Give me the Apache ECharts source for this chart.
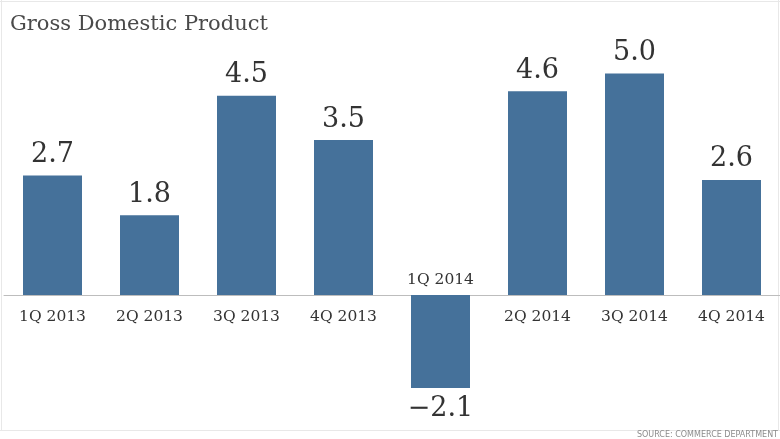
<!DOCTYPE html>
<html>
<head>
<meta charset="utf-8">
<script src="https://cdn.jsdelivr.net/npm/echarts@6/dist/echarts.min.js"></script>
<style>
html,body{margin:0;padding:0;background:#fff;}
#chart{width:780px;height:439px;}
</style>
</head>
<body>
<div id="chart"></div>
<script>
const titleText = 'Gross Domestic Product';
const sourceText = 'SOURCE: COMMERCE DEPARTMENT';
const categories = ['1Q 2013','2Q 2013','3Q 2013','4Q 2013','1Q 2014','2Q 2014','3Q 2014','4Q 2014'];
const gdpValues = [2.7, 1.8, 4.5, 3.5, -2.1, 4.6, 5.0, 2.6];

const serif = '"DejaVu Serif", serif';
const chart = echarts.init(document.getElementById('chart'), null, {renderer:'canvas'});

const catLabelSeries = categories.map(function(c, i){
  return {
    value: 0,
    label: {
      position: gdpValues[i] < 0 ? 'top' : 'bottom',
      distance: gdpValues[i] < 0 ? 7 : 14
    }
  };
});

chart.setOption({
  animation: false,
  backgroundColor: '#fff',
  title: [{
    text: titleText,
    left: 5, top: 9,
    textStyle: {fontFamily: serif, fontSize: 21, fontWeight: 'normal', color: '#4a4a4a'}
  },{
    text: sourceText,
    right: 2, top: 431, padding: 0,
    textStyle: {fontFamily: '"DejaVu Sans", sans-serif', fontSize: 8, fontWeight: 'normal', color: '#8c8c8c'}
  }],
  graphic: [
    {type:'line', shape:{x1:0,y1:1.5,x2:780,y2:1.5}, style:{stroke:'#e8e8e8',lineWidth:1}, silent:true},
    {type:'line', shape:{x1:1.5,y1:0,x2:1.5,y2:431}, style:{stroke:'#e8e8e8',lineWidth:1}, silent:true},
    {type:'line', shape:{x1:778.5,y1:0,x2:778.5,y2:431}, style:{stroke:'#e8e8e8',lineWidth:1}, silent:true},
    {type:'line', shape:{x1:0,y1:430.5,x2:780,y2:430.5}, style:{stroke:'#e8e8e8',lineWidth:1}, silent:true}
  ],
  grid: {left: 4, right: 0, top: 51.4, height: 376.6, containLabel: false},
  xAxis: {
    type: 'category',
    data: categories,
    axisLine: {show: true, onZero: true, lineStyle: {color: '#bdbdbd', width: 1}},
    axisTick: {show: false},
    axisLabel: {show: false},
    splitLine: {show: false}
  },
  yAxis: {
    type: 'value',
    min: -3, max: 5.5,
    show: false
  },
  series: [{
    type: 'bar',
    data: gdpValues,
    barWidth: 59,
    itemStyle: {color: '#45719a'},
    label: {
      show: true,
      position: 'outside',
      distance: 7,
      formatter: function(p){
        const s = Math.abs(p.value).toFixed(1);
        return p.value < 0 ? '\u2212' + s : s;
      },
      fontFamily: serif,
      fontSize: 27,
      color: '#333'
    },
    z: 3
  },{
    type: 'bar',
    data: catLabelSeries,
    barWidth: 59,
    barGap: '-100%',
    itemStyle: {color: 'transparent'},
    label: {
      show: true,
      formatter: function(p){ return categories[p.dataIndex]; },
      fontFamily: serif,
      fontSize: 15.5,
      color: '#333'
    },
    silent: true,
    z: 4
  }]
});
</script>
</body>
</html>
